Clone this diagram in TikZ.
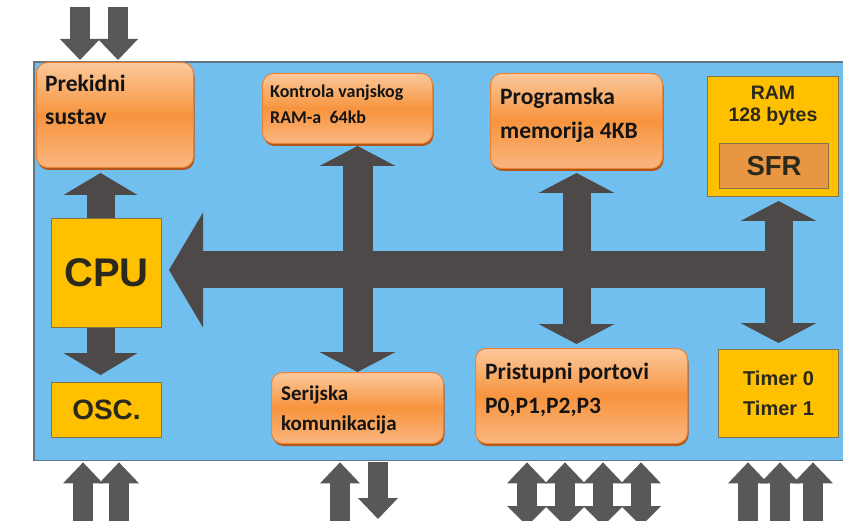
\documentclass[tikz,border=0pt]{standalone}
\usepackage{fontspec}
\usepackage{xcolor}
\usepackage{tikz}
\usetikzlibrary{arrows.meta, positioning, shadows}

\setmainfont{Carlito}
\newfontfamily\yfont{Liberation Sans}

\definecolor{chipblue}{RGB}{112,191,238}
\definecolor{chipedge}{RGB}{96,118,132}
\definecolor{busgrey}{RGB}{77,73,72}
\definecolor{padgrey}{RGB}{88,88,90}
\definecolor{cpuyellow}{RGB}{255,192,0}
\definecolor{yedge}{RGB}{128,116,72}
\definecolor{sfrorange}{RGB}{232,150,66}
\definecolor{otop}{RGB}{251,200,155}
\definecolor{omid}{RGB}{247,148,62}
\definecolor{obot}{RGB}{250,182,128}
\definecolor{oedge}{RGB}{236,130,52}
\definecolor{oshadow}{RGB}{176,86,24}
\definecolor{ytextcol}{RGB}{43,40,28}

\begin{document}
\begin{tikzpicture}[x=1pt, y=-1pt,
        panel/.style={rectangle, fill=chipblue, inner sep=0pt, anchor=north west},
        obox/.style={rectangle, rounded corners=11pt, draw=oedge, line width=1pt, top color=otop, bottom color=obot, middle color=omid, drop shadow={shadow xshift=1pt, shadow yshift=-2.5pt, fill=oshadow, opacity=1}, inner sep=0pt, anchor=north west},
        otext/.style={anchor=north west, align=left, inner sep=0pt, text=black!92},
        ybox/.style={rectangle, draw=yedge, line width=1pt, fill=cpuyellow, inner sep=0pt, anchor=north west, align=center, text=ytextcol},
        ytext/.style={inner sep=0pt, align=center, text=ytextcol, font=\yfont\bfseries\fontsize{19.5}{22}\selectfont},
        busarrow/.style={draw=busgrey, line width=37pt, -{Triangle[length=34pt, width=115pt, line width=0pt]}},
        linkarrow/.style={draw=busgrey, line width=28pt, {Triangle[length=20pt, width=76pt, line width=0pt]}-{Triangle[length=20pt, width=76pt, line width=0pt]}},
        uplink/.style={draw=busgrey, line width=28pt, -{Triangle[length=22pt, width=74pt, line width=0pt]}},
        padarrow/.style={draw=padgrey, line width=20pt, -{Triangle[length=21pt, width=40pt, line width=0pt]}},
        paddouble/.style={draw=padgrey, line width=20pt, {Triangle[length=21pt, width=40pt, line width=0pt]}-{Triangle[length=20pt, width=40pt, line width=0pt]}}]

    \useasboundingbox (0,0) rectangle (843,521);
    \fill[white] (0,0) rectangle (843,521);

    \node (chip) [panel, minimum width=812, minimum height=398] at (34,62) {};
    \draw[chipedge, line width=1.2pt] (chip.north east) -- (chip.north west) -- (chip.south west) -- (chip.south east);

    \node (prek) [obox, minimum width=157, minimum height=105,
        label={[otext, font=\bfseries\fontsize{23.5}{33}\selectfont, shift={(9,13)}]north west:Prekidni\\sustav}] at (36,62) {};
    \node (kontr) [obox, minimum width=170, minimum height=70,
        label={[otext, font=\bfseries\fontsize{18}{26}\selectfont, shift={(8,12)}]north west:Kontrola vanjskog\\RAM-a\ \ 64kb}] at (262,73) {};
    \node (prog) [obox, minimum width=172, minimum height=95,
        label={[otext, font=\bfseries\fontsize{23.5}{34}\selectfont, shift={(10,15)}]north west:Programska\\memorija 4KB}] at (490,73) {};
    \node (serij) [obox, minimum width=172, minimum height=71,
        label={[otext, font=\bfseries\fontsize{21}{30}\selectfont, shift={(10,14)}]north west:Serijska\\komunikacija}] at (271,372) {};
    \node (ports) [obox, minimum width=212, minimum height=95,
        label={[otext, font=\bfseries\fontsize{23.5}{34}\selectfont, shift={(10,15)}]north west:Pristupni portovi\\P0,P1,P2,P3}] at (475,348) {};

    \node (cpu) [ybox, minimum width=110, minimum height=109, font=\yfont\bfseries\fontsize{40}{40}\selectfont] at (51,218) {CPU};
    \node (osc) [ybox, minimum width=110, minimum height=55, font=\yfont\bfseries\fontsize{28}{28}\selectfont] at (51,382) {OSC.};
    \node (ram) [ybox, minimum width=131, minimum height=120,
        label={[ytext, anchor=north, shift={(0,10)}]north:RAM\\128 bytes}] at (707,76) {};
    \node (sfr) [ybox, fill=sfrorange, minimum width=109, minimum height=45, font=\yfont\bfseries\fontsize{27.5}{28}\selectfont] at (719,143) {SFR};
    \node (timer) [ybox, minimum width=120, minimum height=88, font=\yfont\bfseries\fontsize{20}{30}\selectfont] at (718,349) {Timer 0\\Timer 1};

    \coordinate (busR) at (791,270);
    \draw[busarrow, shorten >=7pt] (busR) -- (busR -| cpu.east);
    \draw[linkarrow, line width=30pt, shorten <=2pt] (serij.north |- kontr.south) -- (serij.north);
    \draw[linkarrow, shorten <=4pt, shorten >=4pt] (prog.south) -- (prog.south |- ports.north);
    \draw[linkarrow, shorten <=4pt, shorten >=6pt] (timer.north |- ram.south) -- (timer.north);
    \draw[uplink, shorten >=5pt] ([xshift=-6pt]cpu.north) -- ([xshift=-6pt]cpu.north |- prek.south);
    \draw[uplink, shorten >=7pt] ([xshift=-6pt]cpu.south) -- ([xshift=-6pt]cpu.south |- osc.north);

    \coordinate (irqA) at (80,7);
    \coordinate (irqB) at (118,7);
    \draw[padarrow, shorten >=2pt] (irqA) -- (irqA |- prek.north);
    \draw[padarrow, shorten >=2pt] (irqB) -- (irqB |- prek.north);

    \coordinate (clkA) at (83,521);
    \coordinate (clkB) at (119,521);
    \draw[padarrow, shorten >=2pt] (clkA) -- (clkA |- chip.south);
    \draw[padarrow, shorten >=2pt] (clkB) -- (clkB |- chip.south);

    \coordinate (rxd) at (340,521);
    \coordinate (txd) at (378,519);
    \draw[padarrow, shorten >=2pt] (rxd) -- (rxd |- chip.south);
    \draw[padarrow, shorten <=2pt] (txd |- chip.south) -- (txd);

    \foreach \px [count=\k] in {527,565,603,641} {
        \coordinate (port\k) at (\px,526);
        \draw[paddouble, shorten <=2pt] (port\k |- chip.south) -- (port\k);
    }
    \foreach \px [count=\k] in {748,780,813} {
        \coordinate (tin\k) at (\px,521);
        \draw[padarrow, shorten >=2pt] (tin\k) -- (tin\k |- chip.south);
    }
\end{tikzpicture}
\end{document}
